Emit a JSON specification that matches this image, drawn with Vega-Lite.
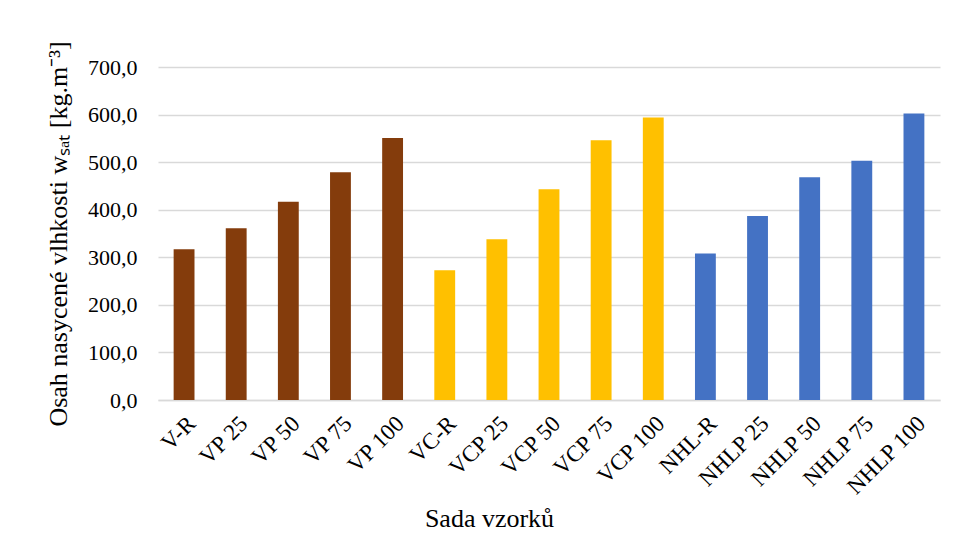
{
  "$schema": "https://vega.github.io/schema/vega-lite/v6.json",
  "autosize": {"type": "none"},
  "padding": {"left": 158, "top": 67, "right": 16, "bottom": 138},
  "width": 782,
  "height": 333,
  "background": "white",
  "config": {
    "locale": {"number": {"decimal": ",", "thousands": " ", "grouping": [3], "currency": ["", " Kč"]}},
    "view": {"stroke": null},
    "font": "Liberation Serif",
    "axis": {
      "labelFont": "Liberation Serif",
      "titleFont": "Liberation Serif",
      "labelColor": "#000000",
      "titleColor": "#000000",
      "titleFontWeight": "normal",
      "gridColor": "#d9d9d9",
      "gridWidth": 1.3,
      "domainColor": "#d9d9d9",
      "domainWidth": 1.3,
      "ticks": false
    }
  },
  "data": {
    "values": [
      {"vzorek": "V-R", "skupina": "V", "wsat": 317},
      {"vzorek": "VP 25", "skupina": "V", "wsat": 361},
      {"vzorek": "VP 50", "skupina": "V", "wsat": 417},
      {"vzorek": "VP 75", "skupina": "V", "wsat": 479},
      {"vzorek": "VP 100", "skupina": "V", "wsat": 551},
      {"vzorek": "VC-R", "skupina": "VC", "wsat": 273},
      {"vzorek": "VCP 25", "skupina": "VC", "wsat": 338},
      {"vzorek": "VCP 50", "skupina": "VC", "wsat": 443},
      {"vzorek": "VCP 75", "skupina": "VC", "wsat": 546},
      {"vzorek": "VCP 100", "skupina": "VC", "wsat": 594},
      {"vzorek": "NHL-R", "skupina": "NHL", "wsat": 308},
      {"vzorek": "NHLP 25", "skupina": "NHL", "wsat": 387},
      {"vzorek": "NHLP 50", "skupina": "NHL", "wsat": 468},
      {"vzorek": "NHLP 75", "skupina": "NHL", "wsat": 503},
      {"vzorek": "NHLP 100", "skupina": "NHL", "wsat": 602}
    ]
  },
  "mark": {"type": "bar"},
  "encoding": {
    "x": {
      "field": "vzorek",
      "type": "nominal",
      "sort": null,
      "scale": {"paddingInner": 0.6, "paddingOuter": 0.3},
      "axis": {
        "title": "Sada vzorků",
        "titleFontSize": 26,
        "labelFontSize": 23,
        "labelAngle": -45,
        "labelPadding": 12,
        "titlePadding": 6,
        "titleAnchor": "start",
        "titleAlign": "center",
        "titleX": 331,
        "grid": false
      }
    },
    "y": {
      "field": "wsat",
      "type": "quantitative",
      "scale": {"domain": [0, 700], "nice": false},
      "axis": {
        "title": "Osah nasycené vlhkosti wₛₐₜ [kg.m⁻³]",
        "titleFontSize": 26,
        "labelFontSize": 22,
        "values": [0, 100, 200, 300, 400, 500, 600, 700],
        "format": ".1f",
        "labelPadding": 21,
        "titlePadding": 16,
        "domain": false,
        "grid": true
      }
    },
    "color": {
      "field": "skupina",
      "type": "nominal",
      "scale": {"domain": ["V", "VC", "NHL"], "range": ["#843C0C", "#FFC000", "#4472C4"]},
      "legend": null
    }
  }
}
